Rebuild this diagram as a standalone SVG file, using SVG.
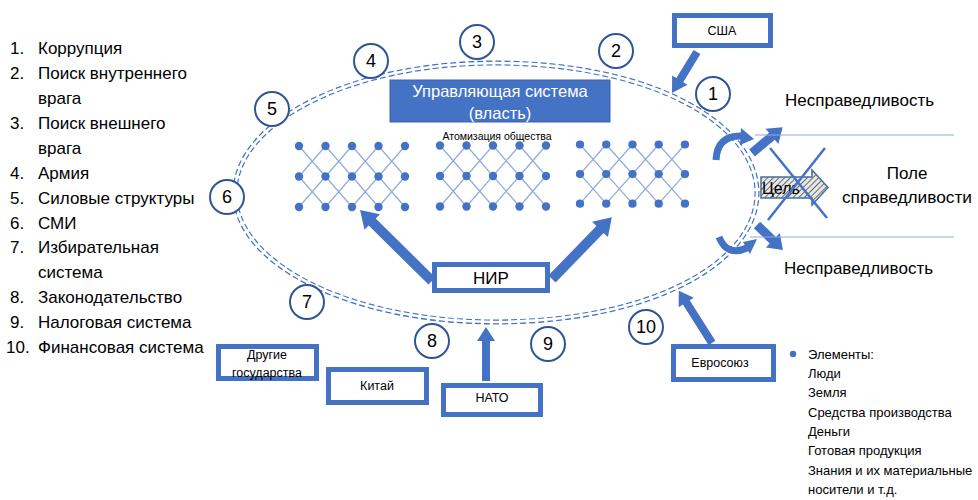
<svg xmlns="http://www.w3.org/2000/svg" width="978" height="500" viewBox="0 0 978 500">
<style>
text{font-family:"Liberation Sans","DejaVu Sans",sans-serif;fill:#000}
.lst{font-size:17px}
.num{font-size:18px;text-anchor:middle}
.box{fill:#fff;stroke:#4472C4;stroke-width:5}
.bt{font-size:12.5px;text-anchor:middle}
.circ{fill:#fff;stroke:#2F5597;stroke-width:2}
.arr{fill:#4472C4}
.el{font-size:13px}
</style>
<defs>
<pattern id="hatch" width="4" height="4" patternUnits="userSpaceOnUse" patternTransform="rotate(45)">
<rect width="4" height="4" fill="#e8e8e8"/>
<line x1="0" y1="0" x2="0" y2="4" stroke="#333" stroke-width="1.4"/>
</pattern>
<g id="grid">
<path d="M0,0 L53,61 M26.5,0 L79.5,61 M53,0 L106,61 M79.5,0 L106,30.5 M0,30.5 L26.5,61 M106,0 L53,61 M79.5,0 L26.5,61 M53,0 L0,61 M26.5,0 L0,30.5 M106,30.5 L79.5,61" fill="none" stroke="#8FAADC" stroke-width="1.2"/>
<g fill="#4472C4">
<circle cx="0" cy="0" r="4.2"/><circle cx="26.5" cy="0" r="4.2"/><circle cx="53" cy="0" r="4.2"/><circle cx="79.5" cy="0" r="4.2"/><circle cx="106" cy="0" r="4.2"/>
<circle cx="0" cy="30.5" r="4.2"/><circle cx="26.5" cy="30.5" r="4.2"/><circle cx="53" cy="30.5" r="4.2"/><circle cx="79.5" cy="30.5" r="4.2"/><circle cx="106" cy="30.5" r="4.2"/>
<circle cx="0" cy="61" r="4.2"/><circle cx="26.5" cy="61" r="4.2"/><circle cx="53" cy="61" r="4.2"/><circle cx="79.5" cy="61" r="4.2"/><circle cx="106" cy="61" r="4.2"/>
</g>
</g>
</defs>
<rect width="978" height="500" fill="#fff"/>

<g id="legend-list" class="lst">
<text x="10" y="54">1.</text><text x="38" y="54">Коррупция</text>
<text x="10" y="79">2.</text><text x="38" y="79">Поиск внутреннего</text>
<text x="38" y="104">врага</text>
<text x="10" y="129">3.</text><text x="38" y="129">Поиск внешнего</text>
<text x="38" y="154">врага</text>
<text x="10" y="179">4.</text><text x="38" y="179">Армия</text>
<text x="10" y="204">5.</text><text x="38" y="204">Силовые структуры</text>
<text x="10" y="229">6.</text><text x="38" y="229">СМИ</text>
<text x="10" y="253">7.</text><text x="38" y="253">Избирательная</text>
<text x="38" y="278">система</text>
<text x="10" y="303">8.</text><text x="38" y="303">Законодательство</text>
<text x="10" y="328">9.</text><text x="38" y="328">Налоговая система</text>
<text x="6" y="353">10.</text><text x="38" y="353">Финансовая система</text>
</g>

<g id="boundary">
<path d="M235,193 C235,122 351,63 495,63 C652,63 757,124 757,193 C757,262 652,322 495,322 C351,322 235,264 235,193 Z" fill="none" stroke="#4472C4" stroke-width="5" stroke-dasharray="6 3"/>
<path d="M235,193 C235,122 351,63 495,63 C652,63 757,124 757,193 C757,262 652,322 495,322 C351,322 235,264 235,193 Z" fill="none" stroke="#fff" stroke-width="2.6"/>
</g>

<g id="power">
<rect x="390" y="80" width="220" height="42" fill="#4472C4" stroke="#3B65B0" stroke-width="1"/>
<text x="500" y="97" font-size="16.5" text-anchor="middle" style="fill:#fff">Управляющая система</text>
<text x="500" y="119" font-size="16.5" text-anchor="middle" style="fill:#fff">(власть)</text>
</g>

<g id="atomization">
<text x="497" y="140" font-size="10.5" text-anchor="middle">Атомизация общества</text>
<use href="#grid" transform="translate(299,146)"/>
<use href="#grid" transform="translate(440,145.5)"/>
<use href="#grid" transform="translate(580,144.5) scale(0.99,0.97)"/>
</g>

<g id="connectors">
<polygon class="arr" transform="translate(697,52) rotate(121.4)" points="0,-4 33,-4 33,-9 48,0 33,9 33,4 0,4"/>
<polygon class="arr" transform="translate(432,281) rotate(224.6)" points="0,-5 84,-5 84,-11 101,0 84,11 84,5 0,5"/>
<polygon class="arr" transform="translate(552,279) rotate(-45.9)" points="0,-5 69,-5 69,-11 86,0 69,11 69,5 0,5"/>
<polygon class="arr" transform="translate(486,381) rotate(-90)" points="0,-4 40,-4 40,-9 54,0 40,9 40,4 0,4"/>
<polygon class="arr" transform="translate(712,343) rotate(-122.4)" points="0,-4 48,-4 48,-9 62,0 48,9 48,4 0,4"/>
<polygon class="arr" transform="translate(752,153) rotate(-40)" points="0,-4.5 26,-4.5 26,-10 40,0 26,10 26,4.5 0,4.5"/>
<polygon class="arr" transform="translate(757,225) rotate(44)" points="0,-4.5 22,-4.5 22,-10 36,0 22,10 22,4.5 0,4.5"/>
<path d="M716,160 Q717,135 742,136" fill="none" stroke="#4472C4" stroke-width="7"/>
<polygon class="arr" points="741,128 754,139 740,145"/>
<path d="M719,237 Q727,257 747,248" fill="none" stroke="#4472C4" stroke-width="7"/>
<polygon class="arr" points="743,242 757,239 750,254"/>
<line x1="755" y1="135" x2="954" y2="135" stroke="#8FAADC" stroke-width="1.2"/>
<line x1="750" y1="237" x2="954" y2="237" stroke="#8FAADC" stroke-width="1.2"/>
</g>

<g id="goal">
<polygon points="761,177 812,177 812,170 828,187.5 812,205 812,198 761,198" fill="url(#hatch)" stroke="#41719C" stroke-width="1.5"/>
<text x="762" y="194" font-size="16">Цель</text>
<line x1="770" y1="148" x2="827" y2="218" stroke="#4472C4" stroke-width="2.5"/>
<line x1="825" y1="148" x2="768" y2="220" stroke="#4472C4" stroke-width="2.5"/>
</g>

<g id="fields" font-size="17">
<text x="785" y="106">Несправедливость</text>
<text x="907" y="179" text-anchor="middle">Поле</text>
<text x="907" y="203" text-anchor="middle" font-size="17.3">справедливости</text>
<text x="784" y="274">Несправедливость</text>
</g>

<g id="n1"><circle class="circ" cx="713" cy="94" r="17"/><text class="num" x="713" y="100">1</text></g>
<g id="n2"><circle class="circ" cx="616" cy="51" r="17"/><text class="num" x="616" y="57">2</text></g>
<g id="n3"><circle class="circ" cx="477" cy="42" r="17"/><text class="num" x="477" y="48">3</text></g>
<g id="n4"><circle class="circ" cx="371" cy="61" r="17"/><text class="num" x="371" y="67">4</text></g>
<g id="n5"><circle class="circ" cx="272" cy="109" r="17"/><text class="num" x="272" y="115">5</text></g>
<g id="n6"><circle class="circ" cx="227" cy="197" r="17"/><text class="num" x="227" y="203">6</text></g>
<g id="n7"><circle class="circ" cx="307" cy="302" r="17"/><text class="num" x="307" y="308">7</text></g>
<g id="n8"><circle class="circ" cx="432" cy="341" r="17"/><text class="num" x="432" y="347">8</text></g>
<g id="n9"><circle class="circ" cx="548" cy="344" r="17"/><text class="num" x="548" y="350">9</text></g>
<g id="n10"><circle class="circ" cx="646" cy="327" r="17"/><text class="num" x="646" y="333">10</text></g>

<g id="usa"><rect class="box" x="674.5" y="15.5" width="96" height="30"/><text class="bt" x="722" y="35">США</text></g>
<g id="nir"><rect class="box" x="434.5" y="264.5" width="113" height="26"/><text x="491" y="284" font-size="17" text-anchor="middle">НИР</text></g>
<g id="other"><rect class="box" x="218.5" y="346.5" width="98" height="32"/><text class="bt" x="267" y="359">Другие</text><text class="bt" x="267" y="377">государства</text></g>
<g id="china"><rect class="box" x="328.5" y="369.5" width="98" height="33"/><text class="bt" x="377" y="390">Китай</text></g>
<g id="nato"><rect class="box" x="443.5" y="385.5" width="97" height="29"/><text class="bt" x="492" y="402">НАТО</text></g>
<g id="eu"><rect class="box" x="673.5" y="346.5" width="100" height="33"/><text class="bt" x="720" y="367">Евросоюз</text></g>

<g id="elements" class="el">
<circle cx="793" cy="354" r="3.2" fill="#4472C4"/>
<text x="808" y="358.5">Элементы:</text>
<text x="808" y="377.5">Люди</text>
<text x="808" y="397">Земля</text>
<text x="808" y="416.5">Средства производства</text>
<text x="808" y="435.5">Деньги</text>
<text x="808" y="455">Готовая продукция</text>
<text x="808" y="474.5">Знания и их материальные</text>
<text x="808" y="494">носители и т.д.</text>
</g>
</svg>
